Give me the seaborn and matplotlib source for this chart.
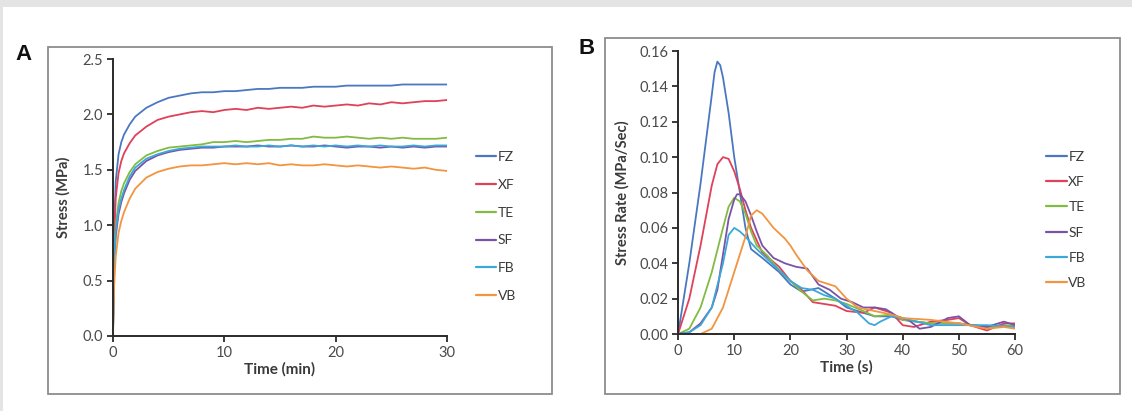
import matplotlib

matplotlib.use("Agg")

import matplotlib.pyplot as plt
import pandas as pd
import seaborn as sns
from matplotlib.lines import Line2D
from matplotlib.patches import Rectangle

series_names = ["FZ", "XF", "TE", "SF", "FB", "VB"]
series_colors = ["#4a78c0", "#e0405a", "#82bb42", "#7b52a6", "#3aa8d8", "#f29440"]

# panel A: stress vs time (min)
time_min = [0, 0.1, 0.25, 0.5, 0.75, 1, 1.5, 2, 3, 4, 5, 6, 7, 8, 9, 10, 11, 12, 13, 14, 15,
            16, 17, 18, 19, 20, 21, 22, 23, 24, 25, 26, 27, 28, 29, 30]
stress_fz = [0, 0.95, 1.4, 1.64, 1.75, 1.82, 1.91, 1.98, 2.06, 2.11, 2.15, 2.17, 2.19, 2.2, 2.2,
             2.21, 2.21, 2.22, 2.23, 2.23, 2.24, 2.24, 2.24, 2.25, 2.25, 2.25, 2.26, 2.26, 2.26,
             2.26, 2.26, 2.27, 2.27, 2.27, 2.27, 2.27]
stress_xf = [0, 0.85, 1.25, 1.47, 1.58, 1.65, 1.74, 1.81, 1.89, 1.95, 1.98, 2.0, 2.02, 2.03, 2.02,
             2.04, 2.05, 2.04, 2.06, 2.05, 2.06, 2.07, 2.06, 2.08, 2.07, 2.08, 2.09, 2.08, 2.1,
             2.09, 2.11, 2.1, 2.11, 2.12, 2.12, 2.13]
stress_te = [0, 0.7, 1.0, 1.2, 1.31, 1.38, 1.48, 1.55, 1.63, 1.67, 1.7, 1.71, 1.72, 1.73, 1.75,
             1.75, 1.76, 1.75, 1.76, 1.77, 1.77, 1.78, 1.78, 1.8, 1.79, 1.79, 1.8, 1.79, 1.78,
             1.79, 1.78, 1.79, 1.78, 1.78, 1.78, 1.79]
stress_sf = [0, 0.6, 0.9, 1.1, 1.21, 1.29, 1.41, 1.49, 1.58, 1.63, 1.66, 1.68, 1.69, 1.7, 1.7,
             1.71, 1.71, 1.71, 1.72, 1.71, 1.71, 1.72, 1.71, 1.71, 1.72, 1.71, 1.7, 1.71, 1.71,
             1.7, 1.71, 1.7, 1.71, 1.7, 1.71, 1.71]
stress_fb = [0, 0.65, 0.95, 1.14, 1.24, 1.32, 1.44, 1.52, 1.6, 1.64, 1.67, 1.69, 1.7, 1.71, 1.71,
             1.71, 1.72, 1.71, 1.71, 1.72, 1.71, 1.72, 1.71, 1.72, 1.71, 1.72, 1.71, 1.72, 1.71,
             1.72, 1.71, 1.71, 1.72, 1.71, 1.72, 1.72]
stress_vb = [0, 0.45, 0.72, 0.93, 1.04, 1.12, 1.24, 1.33, 1.43, 1.48, 1.51, 1.53, 1.54, 1.54, 1.55,
             1.56, 1.55, 1.56, 1.55, 1.56, 1.54, 1.55, 1.54, 1.54, 1.55, 1.54, 1.53, 1.54, 1.53,
             1.52, 1.53, 1.52, 1.51, 1.52, 1.5, 1.49]
stress_values = [stress_fz, stress_xf, stress_te, stress_sf, stress_fb, stress_vb]

# panel B: stress rate vs time (s)
rate_time_fz = [0, 2, 4, 6, 6.5, 7, 7.5, 8, 9, 10, 11, 12, 13, 15, 18, 20, 22, 25, 28, 30, 33,
                35, 38, 40, 45, 50, 55, 58, 60]
rate_fz = [0, 0.04, 0.085, 0.135, 0.148, 0.154, 0.152, 0.145, 0.125, 0.1, 0.08, 0.06, 0.048,
           0.043, 0.035, 0.028, 0.024, 0.026, 0.02, 0.015, 0.012, 0.01, 0.01, 0.008, 0.006,
           0.006, 0.004, 0.005, 0.004]
rate_time_xf = [0, 2, 4, 6, 7, 8, 9, 10, 11, 12, 13, 15, 18, 20, 22, 24, 26, 28, 30, 33, 35,
                38, 40, 42, 45, 48, 50, 52, 55, 58, 60]
rate_xf = [0, 0.02, 0.05, 0.084, 0.096, 0.1, 0.099, 0.092, 0.082, 0.07, 0.06, 0.046, 0.038, 0.03,
           0.025, 0.018, 0.017, 0.016, 0.013, 0.012, 0.015, 0.012, 0.005, 0.004, 0.007, 0.008,
           0.009, 0.005, 0.002, 0.006, 0.006]
rate_time_te = [0, 2, 4, 6, 8, 9, 10, 11, 12, 13, 14, 16, 18, 20, 22, 24, 26, 28, 30, 33, 35,
                38, 40, 45, 50, 55, 60]
rate_te = [0, 0.003, 0.015, 0.035, 0.06, 0.072, 0.077, 0.075, 0.068, 0.058, 0.05, 0.044, 0.036,
           0.03, 0.024, 0.019, 0.02, 0.019, 0.017, 0.013, 0.01, 0.011, 0.008, 0.006, 0.006,
           0.004, 0.005]
rate_time_sf = [0, 2, 4, 6, 7, 8, 9, 10, 10.5, 11, 12, 13, 14, 15, 17, 19, 21, 23, 25, 27, 29,
                31, 33, 35, 37, 39, 41, 43, 45, 48, 50, 52, 55, 58, 60]
rate_sf = [0, 0.001, 0.006, 0.015, 0.025, 0.045, 0.065, 0.076, 0.079, 0.079, 0.075, 0.067, 0.058,
           0.05, 0.043, 0.04, 0.038, 0.037, 0.028, 0.025, 0.02, 0.018, 0.015, 0.015, 0.014,
           0.01, 0.008, 0.003, 0.004, 0.009, 0.01, 0.005, 0.004, 0.007, 0.005]
rate_time_fb = [0, 2, 4, 6, 8, 9, 10, 11, 12, 14, 16, 18, 20, 22, 24, 26, 28, 30, 32, 34, 35,
                36, 38, 40, 45, 50, 55, 60]
rate_fb = [0, 0.001, 0.005, 0.015, 0.04, 0.056, 0.06, 0.058, 0.055, 0.048, 0.042, 0.036, 0.03,
           0.026, 0.025, 0.022, 0.02, 0.016, 0.012, 0.006, 0.005, 0.007, 0.01, 0.009, 0.005,
           0.005, 0.005, 0.004]
rate_time_vb = [0, 4, 6, 8, 10, 12, 13, 14, 15, 17, 19, 20, 21, 23, 25, 27, 28, 30, 32, 35, 38,
                40, 45, 50, 55, 58, 60]
rate_vb = [0, 0.0, 0.003, 0.015, 0.035, 0.055, 0.067, 0.07, 0.068, 0.06, 0.054, 0.05, 0.045,
           0.036, 0.03, 0.028, 0.027, 0.02, 0.015, 0.013, 0.011, 0.009, 0.008, 0.006, 0.003,
           0.004, 0.003]
rate_times = [rate_time_fz, rate_time_xf, rate_time_te, rate_time_sf, rate_time_fb, rate_time_vb]
rate_values = [rate_fz, rate_xf, rate_te, rate_sf, rate_fb, rate_vb]

stress_df = pd.concat(
    [pd.DataFrame({"time": time_min, "value": vals, "series": name})
     for name, vals in zip(series_names, stress_values)], ignore_index=True)
rate_df = pd.concat(
    [pd.DataFrame({"time": t, "value": vals, "series": name})
     for name, t, vals in zip(series_names, rate_times, rate_values)], ignore_index=True)

sns.set_theme(style="white")
plt.rcParams["font.family"] = ["Lato", "DejaVu Sans"]

fig = plt.figure(figsize=(11.32, 4.11), dpi=100)
fig.patch.set_facecolor("white")
# grey page strips and panel frames, kept behind the axes
for xy, w, h, face, edge in (
    ((0, 1 - 7 / 411), 1, 7 / 411, "#e4e4e4", "none"),
    ((0, 0), 3 / 1132, 1, "#e4e4e4", "none"),
    ((48 / 1132, 17 / 411), 504 / 1132, 347 / 411, "white", "#8c8c8c"),
    ((605 / 1132, 17 / 411), 515 / 1132, 356 / 411, "white", "#8c8c8c"),
):
    fig.patches.append(Rectangle(xy, w, h, transform=fig.transFigure, facecolor=face,
                                 edgecolor=edge, linewidth=1.3, zorder=-5))

ax_a = fig.add_axes([0.0998, 0.1825, 0.2951, 0.6739])
ax_b = fig.add_axes([0.599, 0.1873, 0.2977, 0.6886])

palette = dict(zip(series_names, series_colors))
sns.lineplot(data=stress_df, x="time", y="value", hue="series", hue_order=series_names,
             palette=palette, estimator=None, linewidth=1.3, legend=False, ax=ax_a)
sns.lineplot(data=rate_df, x="time", y="value", hue="series", hue_order=series_names,
             palette=palette, estimator=None, linewidth=1.3, legend=False, ax=ax_b)

tick_color = "#4a4a4a"
label_color = "#3a3a3a"
for ax in (ax_a, ax_b):
    ax.patch.set_alpha(0)
    for side in ("top", "right"):
        ax.spines[side].set_visible(False)
    for side in ("left", "bottom"):
        ax.spines[side].set_color("#2a2a2a")
        ax.spines[side].set_linewidth(1.4)
    ax.tick_params(axis="both", direction="out", length=4, width=1.3, color="#2a2a2a",
                   labelsize=10.5, labelcolor=tick_color, left=True, bottom=True, pad=3)

ax_a.set_xlim(0, 30)
ax_a.set_ylim(0, 2.5)
ax_a.set_xticks([0, 10, 20, 30])
ax_a.set_yticks([0, 0.5, 1.0, 1.5, 2.0, 2.5])
ax_a.set_yticklabels(["0.0", "0.5", "1.0", "1.5", "2.0", "2.5"])
ax_a.set_xlabel("Time (min)", fontsize=11, fontweight="bold", color=label_color, labelpad=2)
ax_a.set_ylabel("Stress (MPa)", fontsize=10.5, fontweight="bold", color=label_color, labelpad=9)

ax_b.set_xlim(0, 60)
ax_b.set_ylim(0, 0.16)
ax_b.set_xticks([0, 10, 20, 30, 40, 50, 60])
ax_b.set_yticks([0, 0.02, 0.04, 0.06, 0.08, 0.10, 0.12, 0.14, 0.16])
ax_b.set_yticklabels(["0.00", "0.02", "0.04", "0.06", "0.08", "0.10", "0.12", "0.14", "0.16"])
ax_b.set_xlabel("Time (s)", fontsize=11, fontweight="bold", color=label_color, labelpad=2)
ax_b.set_ylabel("Stress Rate (MPa/Sec)", fontsize=10.5, fontweight="bold", color=label_color,
                labelpad=7)

handles = [Line2D([], [], color=c, linewidth=1.6) for c in series_colors]
for ax, anchor, spacing in ((ax_a, (0.414, 0.449), 1.14), (ax_b, (0.918, 0.465), 0.96)):
    leg = ax.legend(handles, series_names, loc="center left", bbox_to_anchor=anchor,
                    bbox_transform=fig.transFigure, frameon=False, fontsize=10,
                    handlelength=1.5, handletextpad=0.1, labelspacing=spacing, borderpad=0)
    for text in leg.get_texts():
        text.set_color(label_color)

fig.text(23 / 1132, 1 - 54 / 411, "A", fontsize=16, fontweight="bold", ha="center", va="center",
         family="Liberation Sans", color="#111111")
fig.text(587 / 1132, 1 - 49 / 411, "B", fontsize=16, fontweight="bold", ha="center", va="center",
         family="Liberation Sans", color="#111111")

fig.savefig("out.png", dpi=100)
plt.close(fig)
